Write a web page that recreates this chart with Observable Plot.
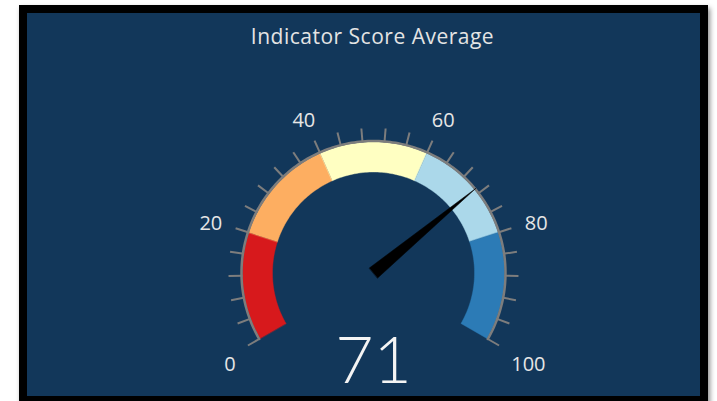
<!DOCTYPE html>
<html>
<head>
<meta charset="utf-8">
<script src="https://cdn.jsdelivr.net/npm/d3@7"></script>
<script src="https://cdn.jsdelivr.net/npm/@observablehq/plot@0.6"></script>
<style>
  html, body { margin: 0; padding: 0; background: #ffffff; }
  #card {
    position: absolute; left: 19px; top: 5px;
    width: 673px; height: 383px;
    border: 8px solid #000; background: #12375a;
    box-shadow: 2px 3px 5px rgba(0,0,0,0.45);
    overflow: hidden;
  }
  #title {
    height: 50px; line-height: 46px; box-sizing: border-box;
    padding-left: 18px; text-align: center;
    font-family: "Open Sans", Lato, sans-serif; font-size: 21px;
    letter-spacing: 0.5px;
    color: #e4e4e4;
  }
  #chart svg { display: block; }
</style>
</head>
<body>
<div id="card">
  <div id="title">Indicator Score Average</div>
  <div id="chart"></div>
</div>
<script>
// ---- data ----
const bandIds    = ["b1", "b2", "b3", "b4", "b5"];
const bandStarts = [0, 20, 40, 60, 80];
const bandEnds   = [20, 40, 60, 80, 100];
const bandColors = ["#d7191c", "#fdae61", "#ffffc2", "#abd8ea", "#2c7bb6"];
const gaugeMin = 0, gaugeMax = 100;
const tickStep = 4;
const tickLabels = [0, 20, 40, 60, 80, 100];
const gaugeValue = 71;

// ---- geometry helpers (value -> polar position, units = px) ----
const SPAN = 2 * Math.PI / 3; // half of the 240 degree sweep
function pt(v, r) {
  const a = ((v - gaugeMin) / (gaugeMax - gaugeMin) * 2 - 1) * SPAN;
  return {x: r * Math.sin(a), y: r * Math.cos(a), a};
}
const R_IN = 101, R_OUT = 131, R_TICK0 = 131, R_TICK1 = 145, R_LABEL = 159;

// band polygons
const bandPts = [];
bandIds.forEach((id, i) => {
  const s = bandStarts[i], e = bandEnds[i];
  const n = Math.max(2, Math.round((e - s) * 2));
  for (let k = 0; k <= n; k++) { const p = pt(s + (e - s) * k / n, R_OUT); bandPts.push({band: id, x: p.x, y: p.y}); }
  for (let k = n; k >= 0; k--) { const p = pt(s + (e - s) * k / n, R_IN); bandPts.push({band: id, x: p.x, y: p.y}); }
});

// outer rim
const rimPts = d3.range(0, 201).map(k => pt(gaugeMin + (gaugeMax - gaugeMin) * k / 200, R_OUT + 1));

// ticks
const tickVals = d3.range(gaugeMin, gaugeMax + 0.001, tickStep);
const ticks = tickVals.map(v => { const a = pt(v, R_TICK0), b = pt(v, R_TICK1); return {x1: a.x, y1: a.y, x2: b.x, y2: b.y}; });

// needle
const tip = pt(gaugeValue, 133);
const ang = tip.a;
const hw = 6.5;
const needle = [
  {x: -hw * Math.cos(ang), y: hw * Math.sin(ang)},
  {x: tip.x, y: tip.y},
  {x: hw * Math.cos(ang), y: -hw * Math.sin(ang)}
];

// label marks: anchor the text box by its side nearest the centre
const labelMarks = tickLabels.map(v => {
  const p = pt(v, R_LABEL);
  const sx = Math.sin(p.a), cy = Math.cos(p.a);
  const textAnchor = sx < -0.5 ? "end" : sx > 0.5 ? "start" : "middle";
  const lineAnchor = cy < -0.2 ? "top" : cy > 0.6 ? "bottom" : "middle";
  const dx = textAnchor === "middle" ? Math.sign(sx) * 5 : 0;
  const dy = lineAnchor === "top" ? 4 : lineAnchor === "bottom" ? -1 : 0;
  return Plot.text([{x: p.x, y: p.y, t: String(v)}], {
    x: "x", y: "y", text: "t", textAnchor, lineAnchor, dx, dy,
    fontSize: 20, fill: "#e6e6e6"
  });
});

const plot = Plot.plot({
  width: 673, height: 333,
  margin: 0,
  x: {domain: [-346, 327], axis: null},
  y: {domain: [-123.5, 209.5], axis: null},
  color: {type: "ordinal", domain: bandIds, range: bandColors, legend: false},
  style: {background: "transparent", fontFamily: "'Open Sans', Lato, sans-serif", overflow: "visible"},
  marks: [
    Plot.line(bandPts, {x: "x", y: "y", z: "band", fill: "band", stroke: "band", strokeWidth: 0.4, curve: "linear-closed"}),
    Plot.line(rimPts, {x: "x", y: "y", stroke: "#7d7d7d", strokeWidth: 2.5}),
    Plot.link(ticks, {x1: "x1", y1: "y1", x2: "x2", y2: "y2", stroke: "#7d7d7d", strokeWidth: 2}),
    Plot.line(needle, {x: "x", y: "y", fill: "#000", stroke: "#000", strokeWidth: 0.5, curve: "linear-closed"}),
    ...labelMarks,
    Plot.text([{x: 0, y: -110, t: String(gaugeValue)}], {
      x: "x", y: "y", text: "t", lineAnchor: "bottom",
      fontSize: 66, fontWeight: 300, fill: "#f4f4f4", fontFamily: "Lato, 'Open Sans', sans-serif"
    })
  ]
});
document.getElementById("chart").appendChild(plot);
</script>
</body>
</html>
